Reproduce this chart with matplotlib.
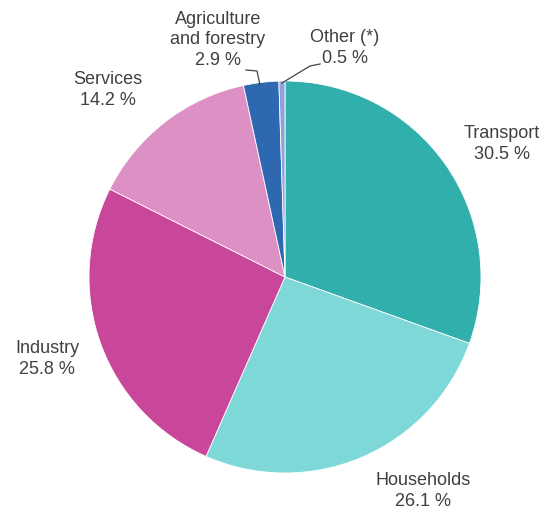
import matplotlib.pyplot as plt

plt.rcParams['font.family'] = ['Liberation Sans', 'DejaVu Sans']

sectors = ['Transport', 'Households', 'Industry', 'Services', 'Agriculture\nand forestry', 'Other (*)']
shares = [30.5, 26.1, 25.8, 14.2, 2.9, 0.5]
colors = ['#30afad', '#7fd8d8', '#c8479b', '#dc90c4', '#2d68b0', '#8fa3d9']

# label centres in pixel coords (y measured from top)
label_pos = [(502, 144), (423, 491), (47, 359), (108, 90), (218, 40), (345, 48)]

fig = plt.figure(figsize=(5.44, 5.12), dpi=100)
ax = fig.add_axes([0, 0, 1, 1])
ax.axis('off')

ax.pie(shares, colors=colors, startangle=90, counterclock=False,
       center=(285, 235), radius=196,
       wedgeprops=dict(edgecolor='white', linewidth=0.6))
ax.set_xlim(0, 544)
ax.set_ylim(0, 512)

for name, val, (x, y) in zip(sectors, shares, label_pos):
    ax.text(x, 512 - y, f'{name}\n{val:.1f} %', ha='center', va='center',
            fontsize=13, color='#404040', linespacing=1.3)

# leader lines for the small slices
ax.plot([246, 257, 260], [512 - 70, 512 - 71, 512 - 85], color='#444444', lw=0.9)
ax.plot([320, 310, 282], [512 - 64, 512 - 66, 512 - 83], color='#444444', lw=0.9)

fig.savefig('out.png', dpi=100)
